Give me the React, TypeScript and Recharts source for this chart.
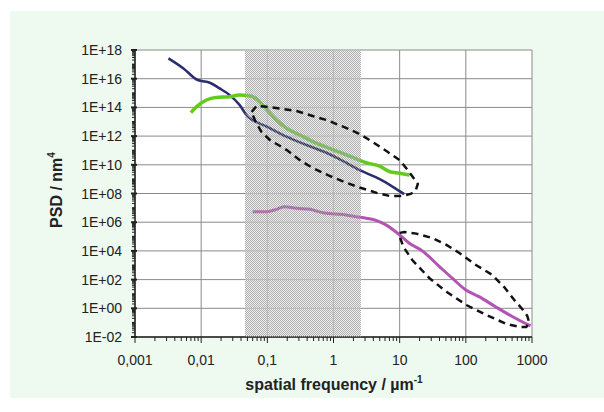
import React from 'react';
import { LineChart, Line, XAxis, YAxis, CartesianGrid, ReferenceArea } from 'recharts';

// ---- data ----
const navyX = [0.0032, 0.0054, 0.0089, 0.0102, 0.0135, 0.019, 0.027, 0.038, 0.051, 0.060, 0.098, 0.195, 0.39, 0.78, 1.23, 2.45, 5.0, 8.0, 11.7];
const navyY = [2.6e17, 5.2e16, 8.1e15, 6.9e15, 5.2e15, 2.1e15, 7.2e14, 1.5e14, 2.2e13, 1.3e13, 4.6e12, 9.1e11, 2.4e11, 6.9e10, 2.5e10, 4.4e9, 1.0e9, 2.8e8, 9.0e7];

const greenX = [0.0070, 0.0085, 0.012, 0.017, 0.027, 0.038, 0.050, 0.060, 0.085, 0.123, 0.195, 0.31, 0.49, 0.78, 1.23, 1.95, 3.1, 5.0, 7.1, 10, 14.1];
const greenY = [4.3e13, 1.1e14, 3.3e14, 5.0e14, 5.6e14, 7.2e14, 6.8e14, 5.6e14, 1.5e14, 2.2e13, 3.5e12, 1.2e12, 4.1e11, 1.7e11, 7.6e10, 3.3e10, 1.4e10, 8.0e9, 3.3e9, 2.6e9, 1.9e9];

const magentaX = [0.060, 0.098, 0.138, 0.18, 0.275, 0.44, 0.69, 1.1, 1.55, 2.2, 3.1, 4.5, 6.3, 10, 14, 22, 40, 63, 100, 158, 280, 510, 950];
const magentaY = [5.4e6, 5.4e6, 7.9e6, 1.2e7, 9.3e6, 7.9e6, 4.6e6, 3.7e6, 3.2e6, 2.4e6, 1.9e6, 1.3e6, 6.3e5, 1.3e5, 3.4e4, 1.0e4, 800, 120, 19, 6.5, 1.3, 0.26, 0.059];

// dashed outlines (annotation ellipses), in data coordinates
const ellipse1X = [0.058, 0.069, 0.098, 0.154, 0.277, 0.484, 0.79, 1.58, 2.48, 3.9, 6.3, 10, 13.2, 16.2, 18.8, 17.4, 14.6, 11, 7.0, 4.5, 2.48, 1.47, 0.87, 0.484, 0.31, 0.195, 0.109, 0.082, 0.067, 0.060];
const ellipse1Y = [4.8e13, 1.3e14, 1.1e14, 8.3e13, 5.6e13, 2.5e13, 1.3e13, 3.6e12, 1.4e12, 3.9e11, 9.1e10, 2.1e10, 4.4e9, 1.2e9, 4.6e8, 1.5e8, 9.3e7, 6.8e7, 6.8e7, 1.1e8, 2.6e8, 6.3e8, 1.7e9, 6.0e9, 2.1e10, 1.1e11, 5.4e11, 1.9e12, 9.6e12, 3.0e13];

const ellipse2X = [10, 11.8, 17.9, 31, 51, 79.8, 144, 252, 380, 540, 710, 850, 910, 820, 650, 410, 205, 102, 51, 28, 15.5, 11.4, 10.3, 10];
const ellipse2Y = [1.8e5, 2.1e5, 1.6e5, 7.9e4, 2.6e4, 7.1e3, 1.0e3, 210, 30, 3.8, 0.9, 0.29, 0.095, 0.05, 0.05, 0.081, 0.34, 1.7, 14, 130, 2300, 1.9e4, 6.8e4, 1.8e5];

const shadeRange = [0.046, 2.6];

const xMajor = [0.001, 0.01, 0.1, 1, 10, 100, 1000];
const xTickLabels = ['0,001', '0,01', '0,1', '1', '10', '100', '1000'];
const yMajor = [1e-2, 1e0, 1e2, 1e4, 1e6, 1e8, 1e10, 1e12, 1e14, 1e16, 1e18];
const yTickLabels = ['1E-02', '1E+00', '1E+02', '1E+04', '1E+06', '1E+08', '1E+10', '1E+12', '1E+14', '1E+16', '1E+18'];
const minorMultipliers = [1, 2, 3, 4, 5, 6, 7, 8, 9];

const zip = (xs: number[], ys: number[]) => xs.map((x, i) => ({ x, y: ys[i] }));
const navyData = zip(navyX, navyY);
const greenData = zip(greenX, greenY);
const magentaData = zip(magentaX, magentaY);
const ell1Data = zip(ellipse1X, ellipse1Y);
const ell2Data = zip(ellipse2X, ellipse2Y);

const buildTicks = (lo: number, hi: number) => {
  const out: number[] = [];
  for (let e = lo; e < hi; e++) for (const m of minorMultipliers) out.push(m * Math.pow(10, e));
  out.push(Math.pow(10, hi));
  return out;
};
const xTicks = buildTicks(-3, 3);
const yTicks = buildTicks(-2, 18);

const FONT = '"Liberation Sans", Arial, sans-serif';

const isMajorOf = (v: number, majors: number[]) => majors.findIndex((m) => Math.abs(v / m - 1) < 1e-6);
const isDecade = (v: number) => {
  const l = Math.log10(v);
  return Math.abs(l - Math.round(l)) < 1e-6;
};

const XTick = (props: any) => {
  const { x, y, payload } = props;
  const v = payload.value as number;
  const idx = isMajorOf(v, xMajor);
  const dec = isDecade(v);
  return (
    <g>
      <line x1={x} x2={x} y1={y} y2={y + (dec ? 6 : 4)} stroke="#222" strokeWidth={1} />
      {idx >= 0 && (
        <text x={x} y={y + 28} textAnchor="middle" fontFamily={FONT} fontSize={14} fill="#222">
          {xTickLabels[idx]}
        </text>
      )}
    </g>
  );
};

const YTick = (props: any) => {
  const { x, y, payload } = props;
  const v = payload.value as number;
  const idx = isMajorOf(v, yMajor);
  const dec = isDecade(v);
  return (
    <g>
      <line x1={x - (idx >= 0 ? 4 : 3)} x2={x + (idx >= 0 ? 2 : 0)} y1={y} y2={y} stroke="#222" strokeWidth={idx >= 0 ? 2 : dec ? 1.5 : 1} />
      {idx >= 0 && (
        <text x={x - 13} y={y + 5} textAnchor="end" fontFamily={FONT} fontSize={14} fill="#222">
          {yTickLabels[idx]}
        </text>
      )}
    </g>
  );
};

export default function App() {
  return (
    <div style={{ position: 'absolute', left: 0, top: 0, width: 604, height: 412, background: '#ffffff' }}>
      <div style={{ position: 'absolute', left: 10, top: 11, width: 594, height: 387, background: '#eef9ef' }} />
      <div style={{ position: 'absolute', left: 0, top: 0 }}>
        <LineChart width={604} height={412} margin={{ top: 50, right: 72, left: 75, bottom: 45 }}>
          <defs>
            <pattern id="shadeDots" patternUnits="userSpaceOnUse" x={0} y={0} width={2} height={2}>
              <rect x={0} y={0} width={1} height={1} fill="#a8a8a8" />
              <rect x={1} y={1} width={1} height={1} fill="#a8a8a8" />
              <rect x={1} y={0} width={1} height={1} fill="#e4e4e4" fillOpacity={0.6} />
              <rect x={0} y={1} width={1} height={1} fill="#e4e4e4" fillOpacity={0.6} />
            </pattern>
            <pattern id="shadeVeil" patternUnits="userSpaceOnUse" x={0} y={0} width={2} height={2}>
              <rect x={0} y={0} width={1} height={1} fill="#b4b4b4" fillOpacity={0.6} />
              <rect x={1} y={1} width={1} height={1} fill="#b4b4b4" fillOpacity={0.6} />
            </pattern>
          </defs>
          <CartesianGrid
            fill="#ffffff"
            stroke="#8a8a8a"
            strokeWidth={1}
            horizontalValues={yMajor}
            verticalValues={xMajor}
          />
          <ReferenceArea
            x1={shadeRange[0]}
            x2={shadeRange[1]}
            y1={0.01}
            y2={1e18}
            fill="url(#shadeDots)"
            fillOpacity={1}
            stroke="none"
            ifOverflow="hidden"
          />
          <XAxis
            dataKey="x"
            type="number"
            scale="log"
            domain={[0.001, 1000]}
            allowDataOverflow
            ticks={xTicks}
            interval={0}
            tickSize={0}
            tickMargin={0}
            tickLine={false}
            tick={(p: any) => <XTick {...p} />}
            axisLine={{ stroke: '#222', strokeWidth: 1.5 }}
            height={30}
          />
          <YAxis
            dataKey="y"
            type="number"
            scale="log"
            domain={[0.01, 1e18]}
            allowDataOverflow
            ticks={yTicks}
            interval={0}
            tickSize={0}
            tickMargin={0}
            tickLine={false}
            tick={(p: any) => <YTick {...p} />}
            axisLine={{ stroke: '#222', strokeWidth: 1.5 }}
            width={60}
          />
          <Line data={navyData} dataKey="y" type="monotone" stroke="#2b2d6e" strokeWidth={2.5} dot={false} activeDot={false} isAnimationActive={false} />
          <Line data={greenData} dataKey="y" type="monotone" stroke="#62cc1a" strokeWidth={3.5} dot={false} activeDot={false} isAnimationActive={false} />
          <Line data={magentaData} dataKey="y" type="monotone" stroke="#b553b5" strokeWidth={3} dot={false} activeDot={false} isAnimationActive={false} />
          <ReferenceArea
            {...({ zIndex: 1000 } as any)}
            x1={shadeRange[0]}
            x2={shadeRange[1]}
            y1={0.01}
            y2={1e18}
            fill="url(#shadeVeil)"
            fillOpacity={1}
            stroke="none"
            ifOverflow="hidden"
          />
          <Line {...({ zIndex: 1100 } as any)} data={ell1Data} dataKey="y" type="linear" stroke="#111" strokeWidth={2.5} strokeDasharray="7 5" dot={false} activeDot={false} isAnimationActive={false} />
          <Line {...({ zIndex: 1100 } as any)} data={ell2Data} dataKey="y" type="linear" stroke="#111" strokeWidth={2.5} strokeDasharray="7 5" dot={false} activeDot={false} isAnimationActive={false} />
        </LineChart>
      </div>
      <svg width={604} height={412} style={{ position: 'absolute', left: 0, top: 0, pointerEvents: 'none' }}>
        <text x={334} y={390} textAnchor="middle" fontFamily={FONT} fontSize={16} fontWeight="bold" fill="#222">
          spatial frequency / µm
          <tspan fontSize={10} dy={-7}>-1</tspan>
        </text>
        <text x={62} y={190} textAnchor="middle" fontFamily={FONT} fontSize={16} fontWeight="bold" fill="#222" transform="rotate(-90 62 190)">
          PSD / nm
          <tspan fontSize={10} dy={-7}>4</tspan>
        </text>
      </svg>
    </div>
  );
}
